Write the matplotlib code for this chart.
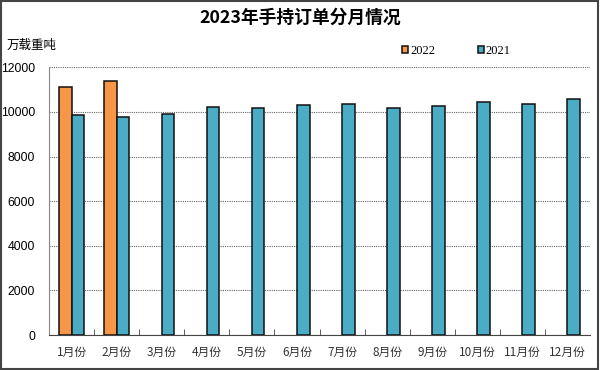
import matplotlib
matplotlib.use('Agg')
from matplotlib import pyplot as plt
from matplotlib.patches import Rectangle
import numpy as np

months = ['1月份', '2月份', '3月份', '4月份', '5月份', '6月份',
          '7月份', '8月份', '9月份', '10月份', '11月份', '12月份']
orders_2022 = [11120, 11375, np.nan, np.nan, np.nan, np.nan,
               np.nan, np.nan, np.nan, np.nan, np.nan, np.nan]
orders_2021 = [9840, 9776, 9928, 10240, 10195, 10300,
               10375, 10195, 10270, 10450, 10375, 10570]
yticks = [0, 2000, 4000, 6000, 8000, 10000, 12000]

cjk = ['Noto Sans CJK SC', 'DejaVu Sans']

fig = plt.figure(figsize=(6, 3.7), dpi=100)
ax = fig.add_axes([49 / 600, 35 / 370, 541 / 600, 267.7 / 370])

x = np.arange(len(months))
w = 0.28
ax.bar(x - w / 2, orders_2022, w, color='#F79646', edgecolor='#111111',
       linewidth=1.1, label='2022', zorder=3)
ax.bar(x + w / 2, orders_2021, w, color='#4BACC6', edgecolor='#111111',
       linewidth=1.1, label='2021', zorder=3)

ax.set_xlim(-0.5, 11.5)
ax.set_ylim(0, 12000)
ax.set_yticks(yticks)
ax.set_yticklabels([str(v) for v in yticks], family='Liberation Sans', fontsize=8.8)
ax.set_xticks(x)
ax.set_xticklabels(months, family=cjk, fontsize=8.5, color='#333333')
ax.set_xticks(np.arange(0.5, 11.5, 1), minor=True)
ax.tick_params(axis='x', which='major', length=0, pad=8)
ax.tick_params(axis='x', which='minor', direction='in', length=4, color='#444444')
ax.tick_params(axis='y', length=0, pad=10)

ax.yaxis.grid(True, color='#666666', linestyle=(0, (1, 1)), linewidth=0.8, zorder=0)
ax.set_axisbelow(True)
for s in ['top', 'right']:
    ax.spines[s].set_visible(False)
ax.spines['left'].set_color('#888888')
ax.spines['bottom'].set_color('#444444')

fig.text(0.5, 1 - 18 / 370, '2023年手持订单分月情况', ha='center', va='center',
         family=cjk, fontsize=12.8, fontweight='bold')
fig.text(7 / 600, 1 - 45 / 370, '万载重吨', ha='left', va='center',
         family=cjk, fontsize=9)

fig.legend(loc='center left', bbox_to_anchor=(402 / 600, 1 - 51 / 370), ncol=2,
           frameon=False, handlelength=0.5, handleheight=0.5, handletextpad=0.15,
           columnspacing=3.4, borderpad=0, borderaxespad=0,
           prop={'family': 'Liberation Serif', 'size': 9})

fig.patches.append(Rectangle((0.002, 0.003), 0.995, 0.994, transform=fig.transFigure,
                             fill=False, edgecolor='#444444', linewidth=1.5))

fig.savefig('out.png', dpi=100)
